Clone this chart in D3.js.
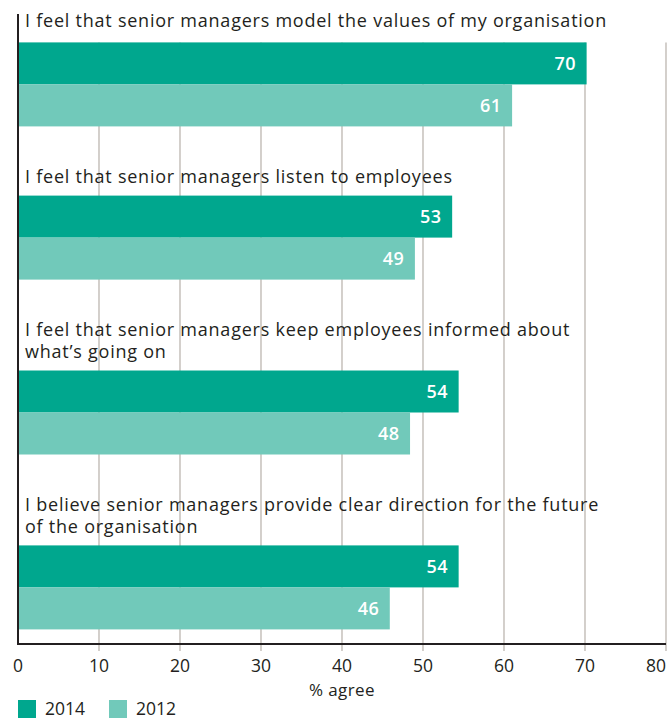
<!DOCTYPE html>
<html><head><meta charset="utf-8">
<script src="https://cdn.jsdelivr.net/npm/d3@7"></script>
<style>
html,body{margin:0;padding:0;background:#fff;}
svg{display:block;font-family:"Open Sans",sans-serif;}
</style></head>
<body><svg id="c" width="668" height="718"></svg>
<script>
const categories = [
  ["I feel that senior managers model the values of my organisation"],
  ["I feel that senior managers listen to employees"],
  ["I feel that senior managers keep employees informed about", "what\u2019s going on"],
  ["I believe senior managers provide clear direction for the future", "of the organisation"]
];
const series = ["2014", "2012"];
const values2014 = [70.2, 53.6, 54.4, 54.4];
const values2012 = [61, 49, 48.4, 45.9];
const labels2014 = ["70", "53", "54", "54"];
const labels2012 = ["61", "49", "48", "46"];
const xTicks = [0, 10, 20, 30, 40, 50, 60, 70, 80];
const xTitle = "% agree";
const colors = {"2014": "#00a78e", "2012": "#71c9ba"};

const svg = d3.select("#c");
const x = d3.scaleLinear().domain([0, 80]).range([18, 666]);
const axisY = 644;
const lineH = 21.7;
const barBand = d3.scaleBand().domain(series).range([0, 84]).padding(0);

let layout = [];
let cursor = 20.7;
categories.forEach((lines, i) => {
  const barTop = cursor + lines.length * lineH;
  layout.push({lines, barTop, i});
  cursor = barTop + 84 + 47.5;
});

// gridlines
const gridTop = layout[0].barTop;
svg.append("g").selectAll("line").data(xTicks.filter(t => t > 0)).join("line")
  .attr("x1", d => x(d)).attr("x2", d => x(d))
  .attr("y1", gridTop).attr("y2", axisY + 7)
  .attr("stroke", "#c9c4bf").attr("stroke-width", 1.6);

// titles
const tg = svg.append("g");
const titleEls = [];
layout.forEach(g => {
  const lastBase = g.barTop - 12.5 - (g.i === 0 ? 2.5 : 0);
  g.lines.forEach((t, j) => {
    const el = tg.append("text").attr("x", 25)
      .attr("y", lastBase - (g.lines.length - 1 - j) * lineH)
      .attr("font-size", 18).attr("fill", "#231f20").text(t);
    titleEls.push(el);
  });
});
{
  const first = titleEls[0];
  const w = first.node().getComputedTextLength();
  const n = categories[0][0].length;
  const ls = Math.max(0, (582 - w) / n);
  titleEls.forEach(el => el.attr("letter-spacing", ls.toFixed(3)));
}

// bars
const data = [];
layout.forEach((g, i) => {
  data.push({s: "2014", v: values2014[i], l: labels2014[i], top: g.barTop});
  data.push({s: "2012", v: values2012[i], l: labels2012[i], top: g.barTop});
});
const bg = svg.append("g");
bg.selectAll("rect").data(data).join("rect")
  .attr("x", x(0)).attr("y", d => d.top + barBand(d.s))
  .attr("width", d => x(d.v) - x(0)).attr("height", barBand.bandwidth())
  .attr("fill", d => colors[d.s]);
bg.selectAll("text").data(data).join("text")
  .attr("x", d => x(d.v) - 10.5)
  .attr("y", d => d.top + barBand(d.s) + barBand.bandwidth() / 2)
  .attr("dy", "0.38em").attr("text-anchor", "end")
  .attr("font-size", 18).attr("font-weight", 600).attr("fill", "#fff")
  .attr("letter-spacing", 0.5)
  .text(d => d.l);

// axes lines
svg.append("line").attr("x1", 18).attr("x2", 18).attr("y1", 14).attr("y2", axisY + 1)
  .attr("stroke", "#231f20").attr("stroke-width", 2);
svg.append("line").attr("x1", 17).attr("x2", x(80)).attr("y1", axisY).attr("y2", axisY)
  .attr("stroke", "#231f20").attr("stroke-width", 2);

// tick labels
svg.append("g").selectAll("text").data(xTicks).join("text")
  .attr("x", d => d === 80 ? 666 : x(d)).attr("y", 672)
  .attr("text-anchor", d => d === 80 ? "end" : "middle")
  .attr("font-size", 17.5).attr("fill", "#231f20")
  .text(d => d);
svg.append("text").attr("x", x(40)).attr("y", 696).attr("text-anchor", "middle")
  .attr("font-size", 17).attr("fill", "#231f20").attr("letter-spacing", 0.4).text(xTitle);

// legend
const legX = [18, 109];
const lg = svg.append("g").selectAll("g").data(series).join("g")
  .attr("transform", (d, i) => `translate(${legX[i]},700)`);
lg.append("rect").attr("width", 18).attr("height", 18).attr("fill", d => colors[d]);
lg.append("text").attr("x", 27).attr("y", 14.5).attr("font-size", 17.5)
  .attr("fill", "#231f20").text(d => d);
</script></body></html>
